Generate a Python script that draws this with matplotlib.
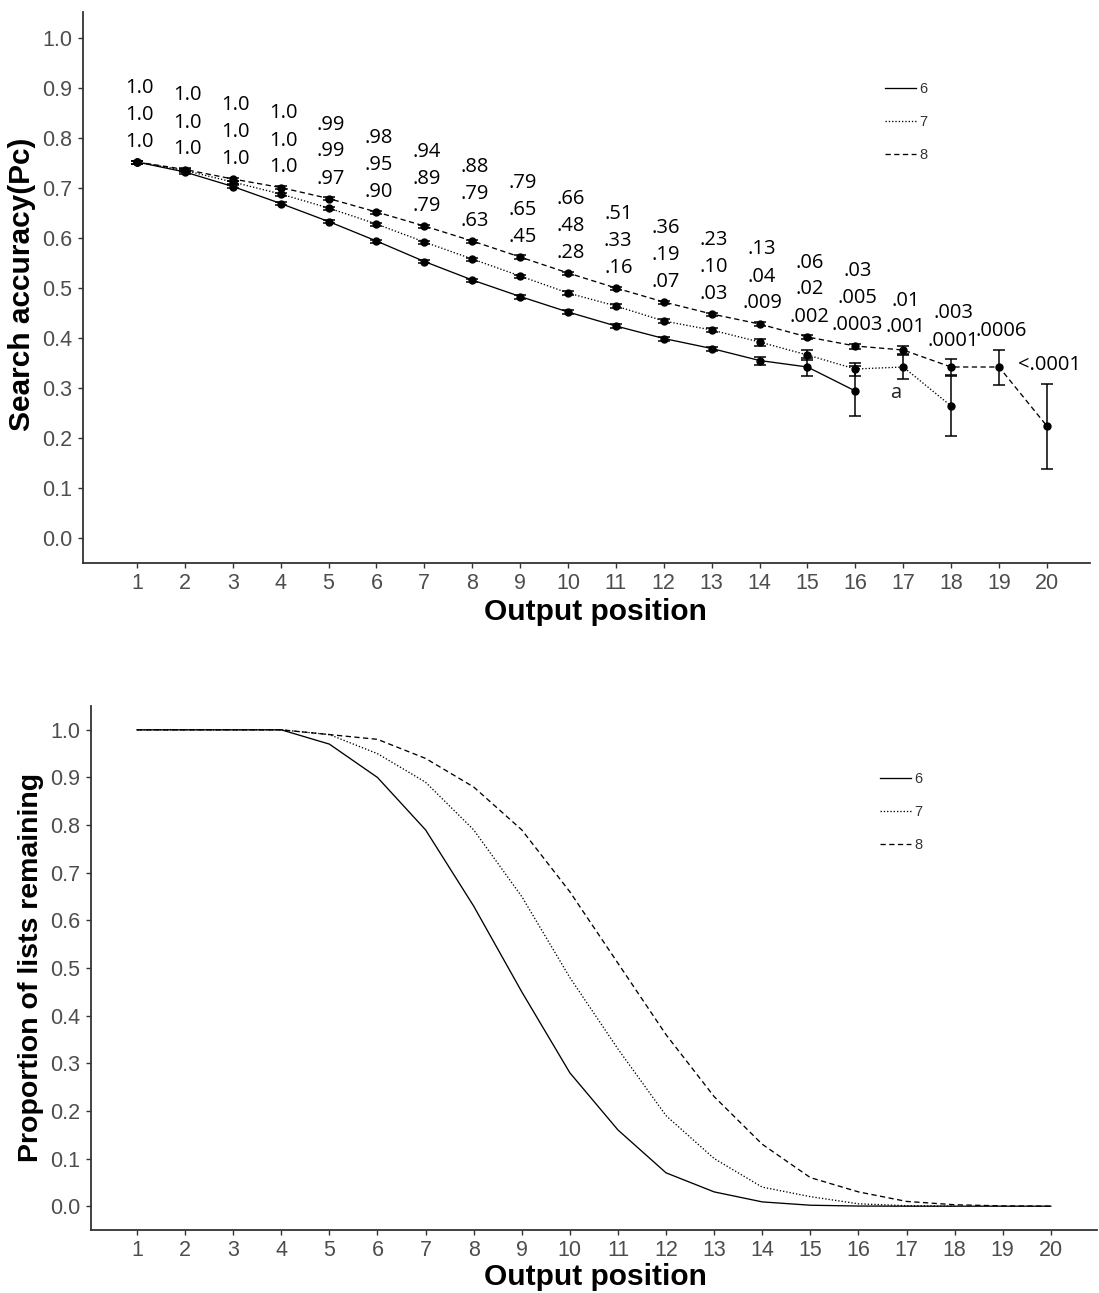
import matplotlib
matplotlib.use("Agg")
import matplotlib.pyplot as plt
from matplotlib.lines import Line2D
import numpy as np

# ---------------- data ----------------
positions = list(range(1, 21))
tick_labels = [str(p) for p in positions]
series_names = ["6", "7", "8"]

# Top panel: search accuracy (Pc) by output position
acc6 = [0.752, 0.732, 0.703, 0.669, 0.633, 0.594, 0.553, 0.516, 0.483, 0.452,
        0.424, 0.399, 0.379, 0.355, 0.342, 0.294]
err6 = [0.003, 0.003, 0.003, 0.003, 0.003, 0.003, 0.003, 0.003, 0.004, 0.004,
        0.004, 0.004, 0.004, 0.008, 0.018, 0.05]
acc7 = [0.752, 0.735, 0.712, 0.688, 0.660, 0.628, 0.592, 0.558, 0.524, 0.490,
        0.464, 0.434, 0.416, 0.392, 0.366, 0.338, 0.342, 0.264]
err7 = [0.003, 0.003, 0.003, 0.003, 0.003, 0.003, 0.003, 0.003, 0.003, 0.004,
        0.004, 0.004, 0.004, 0.007, 0.01, 0.013, 0.024, 0.06]
acc8 = [0.752, 0.737, 0.718, 0.701, 0.679, 0.652, 0.624, 0.594, 0.562, 0.530,
        0.500, 0.472, 0.448, 0.428, 0.402, 0.384, 0.376, 0.342, 0.342, 0.224]
err8 = [0.003, 0.003, 0.003, 0.003, 0.003, 0.003, 0.003, 0.003, 0.003, 0.003,
        0.003, 0.003, 0.003, 0.004, 0.004, 0.005, 0.008, 0.016, 0.035, 0.085]

# Annotation labels (proportion of lists remaining)
lab6 = ["1.0", "1.0", "1.0", "1.0", ".97", ".90", ".79", ".63", ".45", ".28",
        ".16", ".07", ".03", ".009", ".002", ".0003"]
lab7 = ["1.0", "1.0", "1.0", "1.0", ".99", ".95", ".89", ".79", ".65", ".48",
        ".33", ".19", ".10", ".04", ".02", ".005", ".001", ".0001"]
lab8 = ["1.0", "1.0", "1.0", "1.0", ".99", ".98", ".94", ".88", ".79", ".66",
        ".51", ".36", ".23", ".13", ".06", ".03", ".01", ".003", ".0006", "<.0001"]

# Bottom panel: proportion of lists remaining
prop6 = [1.0, 1.0, 1.0, 1.0, 0.97, 0.90, 0.79, 0.63, 0.45, 0.28, 0.16, 0.07,
         0.03, 0.009, 0.002, 0.0003, 0.0, 0.0, 0.0, 0.0]
prop7 = [1.0, 1.0, 1.0, 1.0, 0.99, 0.95, 0.89, 0.79, 0.65, 0.48, 0.33, 0.19,
         0.10, 0.04, 0.02, 0.005, 0.001, 0.0001]
prop8 = [1.0, 1.0, 1.0, 1.0, 0.99, 0.98, 0.94, 0.88, 0.79, 0.66, 0.51, 0.36,
         0.23, 0.13, 0.06, 0.03, 0.01, 0.003, 0.0006, 0.00005]

yticks = [0.0, 0.1, 0.2, 0.3, 0.4, 0.5, 0.6, 0.7, 0.8, 0.9, 1.0]

# ---------------- style ----------------
plt.rcParams["font.family"] = ["Liberation Sans", "DejaVu Sans"]
styles = {
    "6": "-",
    "7": (0, (1.0, 1.5)),
    "8": (0, (4.0, 2.6)),
}
LW = 0.95
TICK_COLOR = "#4d4d4d"
SPINE_COLOR = "#333333"
ANNOT_FONT = ["Open Sans", "DejaVu Sans"]

fig = plt.figure(figsize=(10.99, 12.93), dpi=100)


def style_axes(ax):
    for s in ["top", "right"]:
        ax.spines[s].set_visible(False)
    for s in ["left", "bottom"]:
        ax.spines[s].set_color(SPINE_COLOR)
        ax.spines[s].set_linewidth(1.3)
    ax.set_xticks(positions)
    ax.set_xticklabels(tick_labels)
    ax.set_yticks(yticks)
    ax.set_yticklabels([f"{v:.1f}" for v in yticks])
    ax.tick_params(axis="both", direction="out", length=3.5, width=1.0,
                   color=SPINE_COLOR, labelcolor=TICK_COLOR, labelsize=15.5,
                   pad=4)


def add_legend(ax, anchor):
    handles = [Line2D([], [], color="black", lw=LW, linestyle=styles[n])
               for n in series_names]
    leg = ax.legend(handles, series_names, loc="upper left",
                    bbox_to_anchor=anchor, frameon=False, fontsize=10.5,
                    handlelength=2.1, handletextpad=0.25, labelspacing=1.3,
                    borderpad=0, borderaxespad=0)
    for t in leg.get_texts():
        t.set_color("#333333")


# ---------------- top panel ----------------
ax1 = fig.add_axes([83 / 1099, 1 - 563 / 1293, (1090 - 83) / 1099, (563 - 12) / 1293])
style_axes(ax1)
ax1.set_xlim(-0.128, 20.9)
ax1.set_ylim(-0.05, 1.052)

for name, acc, err in [("6", acc6, err6), ("7", acc7, err7), ("8", acc8, err8)]:
    xs = positions[:len(acc)]
    ax1.errorbar(xs, acc, yerr=err, fmt="o", ms=5, color="black",
                 linestyle=styles[name], lw=LW, elinewidth=1.1, capsize=4,
                 capthick=1.1)

# stacked labels above the top series
all_labels = [lab6, lab7, lab8]
for i, p in enumerate(positions):
    top = acc8[i] + err8[i]
    labs = [lab[i] for lab in all_labels if i < len(lab)]
    for row, txt in enumerate(labs):
        ax1.text(p + 0.05, top + 0.037 + row * 0.054, txt, ha="center",
                 va="center", fontsize=14.5, family=ANNOT_FONT, color="black")

ax1.text(16.85, 0.29, "a", ha="center", va="center", fontsize=14.5,
         family=ANNOT_FONT, color="#222222")

add_legend(ax1, ((885 - 83) / 1007, (563 - 82) / 551))

fig.text(595 / 1099, 1 - 612 / 1293, "Output position", ha="center",
         va="center", fontsize=21.5, fontweight="bold")
fig.text(22 / 1099, 1 - 284 / 1293, "Search accuracy(Pc)", ha="center",
         va="center", rotation=90, fontsize=21.5, fontweight="bold")

# ---------------- bottom panel ----------------
ax2 = fig.add_axes([91 / 1099, 1 - 1230 / 1293, (1097 - 91) / 1099, (1230 - 706) / 1293])
style_axes(ax2)
ax2.set_xlim(0.044, 20.96)
ax2.set_ylim(-0.05, 1.05)

for name, prop in [("6", prop6), ("7", prop7), ("8", prop8)]:
    xs = positions[:len(prop)]
    ax2.plot(xs, prop, color="black", lw=LW, linestyle=styles[name])

add_legend(ax2, ((880 - 91) / 1006, (1230 - 772) / 524))

fig.text(595 / 1099, 1 - 1277 / 1293, "Output position", ha="center",
         va="center", fontsize=21.5, fontweight="bold")
fig.text(31 / 1099, 1 - 967 / 1293, "Proportion of lists remaining",
         ha="center", va="center", rotation=90, fontsize=20.5,
         fontweight="bold")

fig.savefig("out.png", dpi=100)
